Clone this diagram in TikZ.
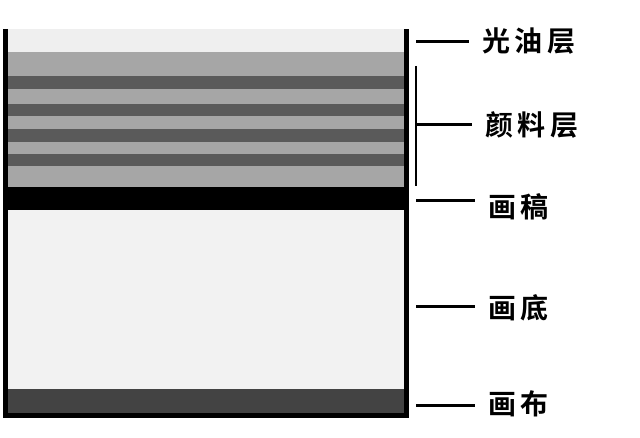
\documentclass[tikz,border=0pt]{standalone}
\usepackage{fontspec}
\newfontfamily\cjk{Noto Sans CJK SC}[BoldFont={Noto Sans CJK SC Bold}, LetterSpace=16]
\definecolor{varn}{HTML}{EFEFEF}
\definecolor{pigl}{HTML}{A6A6A6}
\definecolor{pigd}{HTML}{5A5A5A}
\definecolor{grnd}{HTML}{F2F2F2}
\definecolor{canv}{HTML}{434343}
\begin{document}
\begin{tikzpicture}[x=1pt,y=-1pt,
  lab/.style={anchor=west, inner sep=0pt, font=\cjk\bfseries\fontsize{28}{28}\selectfont},
  lead/.style={line width=3pt, shorten >=13pt},
  wall/.style={line width=5.2pt, line join=miter}]
\useasboundingbox (0,0) rectangle (640,438);
\fill[white] (0,0) rectangle (640,438);
% layers
\fill[varn] (8,29) rectangle (404,52);
\fill[pigl] (8,52) rectangle (404,187);
\foreach \a/\b in {76/89,104/116,129/142,154/166}
  \fill[pigd] (8,\a) rectangle (404,\b);
\fill[black] (8,187) rectangle (404,210);
\fill[grnd] (8,210) rectangle (404,389);
\fill[canv] (8,389) rectangle (404,413);
% container walls
\draw[wall] (5.5,29) -- (5.5,415.5) -- (406.5,415.5) -- (406.5,29);
% labels
\node[lab] (l1) at (482,41) {光油层};
\node[lab] (l2) at (485,125) {颜料层};
\node[lab] (l3) at (488,207) {画稿};
\node[lab] (l4) at (488,308) {画底};
\node[lab] (l5) at (488,404) {画布};
% leader start points
\coordinate (s1) at (416,42);
\coordinate (s2) at (416,125);
\coordinate (s3) at (416,201);
\coordinate (s4) at (416,307);
\coordinate (s5) at (416,405);
\coordinate (bt) at (416,66);
\coordinate (bb) at (416,186);
\draw[line width=2.8pt] (bt) -- (bb);
\draw[lead] (s1) -- (s1 -| l1.west);
\draw[lead] (s2) -- (s2 -| l2.west);
\draw[lead] (s3) -- (s3 -| l3.west);
\draw[lead] (s4) -- (s4 -| l4.west);
\draw[lead] (s5) -- (s5 -| l5.west);
\end{tikzpicture}
\end{document}
